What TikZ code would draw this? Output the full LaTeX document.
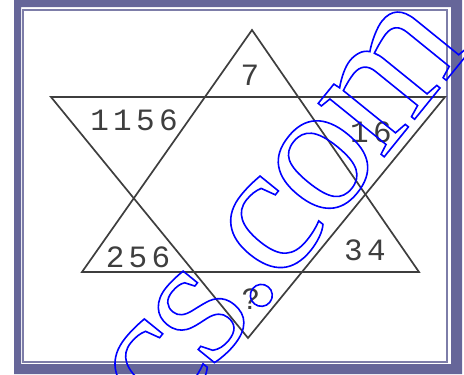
\documentclass[tikz,border=0pt]{standalone}
\usepackage{fontspec}
\setmainfont{Liberation Serif}
\newfontfamily\numfont[LetterSpace=14]{Liberation Mono}
\newfontfamily\markfont[LetterSpace=-3]{Liberation Serif}
\usepackage{xcolor}
\usetikzlibrary{positioning}
\definecolor{framepurple}{RGB}{102,102,153}
\definecolor{starink}{RGB}{62,62,62}
\tikzset{
  sline/.style={draw=starink,line width=1.7pt,line join=miter},
  snum/.style={inner sep=0pt,text=starink,
    font=\numfont\fontsize{31}{31}\selectfont},
  wmark/.style={inner sep=0pt,text=blue,
    font=\markfont\fontsize{185}{185}\selectfont}
}

\begin{document}
\begin{tikzpicture}[x=1pt,y=-1pt]
  \useasboundingbox (0,0) rectangle (464,375);
  % frame
  \fill[framepurple,even odd rule] (14,0) rectangle (462,374)
    (21,7) rectangle (451,364);
  \draw[framepurple!85,line width=2pt] (23,10) rectangle (447,362);
  % star corners
  \coordinate (apex) at (252,30);
  \coordinate (upleft) at (82,272);
  \coordinate (upright) at (419,272);
  \coordinate (dnleft) at (51,97);
  \coordinate (dnright) at (445,97);
  \coordinate (nadir) at (248,338);
  \draw[sline] (apex) -- (upleft) -- (upright) -- cycle;
  \draw[sline] (dnleft) -- (dnright) -- (nadir) -- cycle;
  % numbers
  \node[snum] (top) at (250,75) {7};
  \node[snum] (tl) at (134,120) {1156};
  \node[snum] (tr) at (371,132) {16};
  \node[snum] (bl) at (138,257) {256};
  \node[snum] (br) at (365,250) {34};
  \node[snum] (bot) at (251,299) {?};
  % watermark
  \begin{scope}
    \clip (0,0) rectangle (464,375);
    \node[wmark,anchor=base west,rotate=51] (wm) at (163,430)
      {\special{pdf:literal direct 1 Tr 1.6 w}cs.com\special{pdf:literal direct 0 Tr}};
  \end{scope}
\end{tikzpicture}
\end{document}
